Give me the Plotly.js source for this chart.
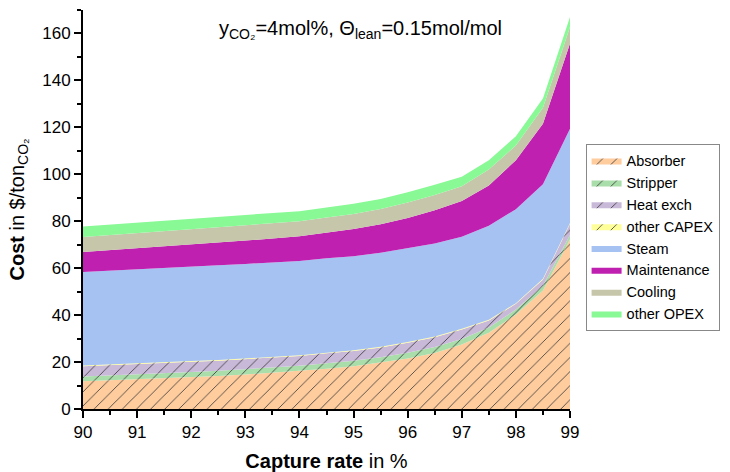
<!DOCTYPE html>
<html>
<head>
<meta charset="utf-8">
<script src="https://cdn.plot.ly/plotly-3.0.1.min.js"></script>
<style>html,body{margin:0;padding:0;background:#fff;}#chart{width:730px;height:472px;}</style>
</head>
<body>
<div id="chart"></div>
<script>
const captureRate = [90, 90.5, 91, 91.5, 92, 92.5, 93, 93.5, 94, 94.5, 95, 95.5, 96, 96.5, 97, 97.5, 98, 98.5, 99];
const absorber    = [11.8, 12.2, 12.6, 13.1, 13.6, 14.1, 14.7, 15.4, 16.1, 17.1, 18.2, 19.7, 21.5, 23.9, 27.5, 32.5, 40.3, 50.5, 72.3];
const stripper    = [2.1, 2.1, 2.1, 2.1, 2.2, 2.2, 2.2, 2.3, 2.3, 2.4, 2.4, 2.4, 2.5, 2.5, 2.3, 2.2, 2.1, 2.0, 1.8];
const heatExch    = [4.3, 4.3, 4.3, 4.3, 4.3, 4.3, 4.3, 4.2, 4.2, 4.2, 4.1, 4.1, 4.2, 4.2, 4.1, 3.0, 2.4, 2.7, 4.8];
const otherCapex  = [0.3, 0.3, 0.3, 0.3, 0.3, 0.3, 0.3, 0.3, 0.3, 0.3, 0.3, 0.3, 0.3, 0.3, 0.3, 0.3, 0.3, 0.3, 0.3];
const steam       = [39.9, 40.0, 40.1, 40.2, 40.3, 40.3, 40.3, 40.3, 40.2, 40.2, 40.1, 40.1, 40.1, 39.6, 39.2, 40.1, 40.0, 40.3, 40.2];
const maintenance = [8.5, 8.8, 9.0, 9.2, 9.4, 9.6, 9.7, 10.1, 10.5, 11.0, 11.6, 12.1, 12.8, 14.2, 15.2, 17.1, 20.9, 25.7, 36.3];
const cooling     = [6.4, 6.4, 6.5, 6.5, 6.5, 6.6, 6.6, 6.5, 6.4, 6.4, 6.4, 6.5, 6.6, 6.5, 6.3, 6.8, 6.3, 6.8, 7.1];
const otherOpex   = [4.5, 4.5, 4.5, 4.4, 4.4, 4.4, 4.4, 4.3, 4.3, 4.3, 4.3, 4.3, 4.3, 4.3, 4.1, 4.0, 3.9, 4.0, 4.2];

const seriesNames = ['Absorber', 'Stripper', 'Heat exch', 'other CAPEX', 'Steam', 'Maintenance', 'Cooling', 'other OPEX'];
const seriesData = [absorber, stripper, heatExch, otherCapex, steam, maintenance, cooling, otherOpex];
const colors = ['#FFCC9E', '#A9DDA9', '#C9B9D9', '#FFFF99', '#A6C2F2', '#C020B0', '#C6C6AA', '#88F995'];
const hatched = [true, true, true, true, false, false, false, false];

const traces = seriesNames.map((name, i) => {
  const t = {
    x: captureRate,
    y: seriesData[i],
    name: name,
    type: 'scatter',
    mode: 'lines',
    stackgroup: 'one',
    line: {width: 0, color: colors[i]},
    fillcolor: colors[i]
  };
  if (hatched[i]) {
    t.fillpattern = {shape: '/', fgcolor: '#333333', bgcolor: colors[i], size: 10, solidity: 0.08};
  }
  return t;
});

const font = 'Liberation Sans, Arial, sans-serif';
const layout = {
  width: 730,
  height: 472,
  margin: {l: 83, r: 160, t: 10, b: 63},
  paper_bgcolor: '#ffffff',
  plot_bgcolor: '#ffffff',
  font: {family: font, size: 17, color: '#000'},
  showlegend: true,
  legend: {
    x: 1.032, y: 0.665, xanchor: 'left', yanchor: 'top',
    traceorder: 'normal',
    bordercolor: '#888', borderwidth: 1,
    font: {family: font, size: 14.5, color: '#000'},
    tracegroupgap: 0,
    itemwidth: 30
  },
  xaxis: {
    range: [90, 99],
    dtick: 1,
    tick0: 90,
    ticks: 'outside', ticklen: 7, tickwidth: 2, tickcolor: '#000',
    minor: {dtick: 0.5, ticks: 'outside', ticklen: 4, tickwidth: 2, tickcolor: '#000'},
    showline: true, linecolor: '#000', linewidth: 2,
    showgrid: false, zeroline: false,
    tickfont: {family: font, size: 17},
    title: {text: '<b>Capture rate</b> in %', font: {family: font, size: 20}, standoff: 14}
  },
  yaxis: {
    range: [0, 170],
    dtick: 20,
    ticks: 'outside', ticklen: 7, tickwidth: 2, tickcolor: '#000',
    minor: {dtick: 10, ticks: 'outside', ticklen: 4, tickwidth: 2, tickcolor: '#000'},
    showline: true, linecolor: '#000', linewidth: 2,
    showgrid: false, zeroline: false,
    tickfont: {family: font, size: 17},
    title: {text: '<b>Cost</b> in $/ton<sub>CO₂</sub>', font: {family: font, size: 20}, standoff: 12}
  },
  annotations: [{
    xref: 'paper', yref: 'paper',
    x: 0.57, y: 0.95, xanchor: 'center', yanchor: 'middle',
    showarrow: false,
    text: 'y<sub>CO₂</sub>=4mol%, Θ<sub>lean</sub>=0.15mol/mol',
    font: {family: font, size: 20, color: '#000'}
  }]
};

Plotly.newPlot('chart', traces, layout, {displayModeBar: false, staticPlot: true});
</script>
</body>
</html>
